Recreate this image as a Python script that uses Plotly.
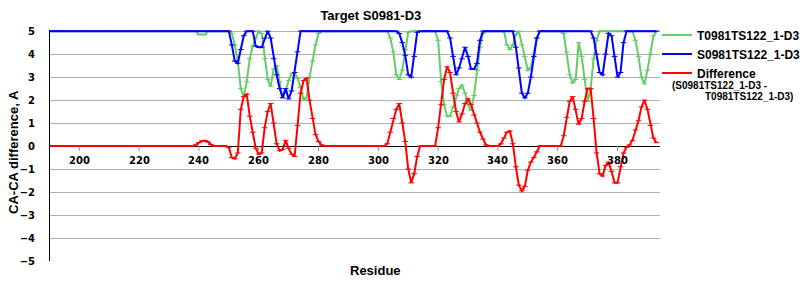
import plotly.graph_objects as go

# Residue numbers (x categories)
residues = list(range(190, 394))

# T0981TS122_1-D3 (green)
t_model = ([5] * 50 + [4.85, 4.85, 4.85] + [5] * 8 +
           [4.9, 4.4, 3.7, 2.5, 2.15, 2.8, 3.8, 4.35, 4.7, 5, 4.9, 3.8, 2.9, 2.6, 3.35,
            3.5, 2.8, 2.1, 2.4, 2.85, 3.15, 3.2, 2.95, 2.55, 2.0, 2.1, 3.0, 3.7, 4.4, 4.9] +
           [5] * 23 + [4.7, 4.1, 3.1, 2.9, 3.3, 4.2, 4.95] + [5] * 9 +
           [4.6, 2.8, 1.8, 1.3, 1.3, 1.7, 2.2, 2.5, 2.65, 2.3, 1.8, 1.55, 2.2, 3.3, 4.3, 4.9] +
           [5] * 7 + [4.4, 4.2, 4.4, 4.85, 5, 4.4, 3.9, 3.3, 3.4, 4.0, 4.7] + [5] * 8 +
           [4.9, 4.1, 3.1, 2.75, 2.9, 4.5, 3.9, 2.9, 1.95, 2.5, 3.8, 4.6] + [5] * 12 +
           [4.6, 3.9, 3.0, 2.7, 3.3, 4.0, 4.8, 5])

# S0981TS122_1-D3 (blue)
s_model = ([5] * 61 + [4.4, 3.7, 3.6, 4.2, 4.8] + [5] * 3 + [4.35, 4.3, 4.3, 4.7] + [5] +
           [4.7, 3.8, 3.1, 2.5, 2.1, 2.5, 2.05, 2.4, 3.2, 4.1] + [5] * 33 +
           [4.9, 4.5, 3.95, 3.1, 3.0, 3.9, 4.95] + [5] * 10 +
           [4.7, 3.9, 3.1, 3.4, 3.8, 4.3, 3.9, 3.35, 3.35, 3.6, 4.6] + [5] * 11 +
           [4.3, 3.4, 2.3, 2.1, 2.3, 3.0, 3.9, 4.7] + [5] * 18 +
           [4.7, 4.0, 3.2, 3.1, 4.0, 4.9, 4.8, 3.9, 3.0, 3.2, 4.5] + [5] * 11)

# Difference (S - T) (red)
difference = ([0] * 49 + [0.05, 0.15, 0.22, 0.24, 0.18, 0.07] + [0] * 5 +
              [-0.05, -0.5, -0.55, -0.3, 1.6, 2.15, 2.25, 1.3, 0.6, -0.1, -0.35, -0.3, 0.8, 1.5,
               1.85, 1.0, 0.1, -0.2, -0.15, 0.25, -0.1, -0.35, -0.45, 0.9, 2.3, 2.85, 2.95, 2.0,
               1.2, 0.5, 0.2, 0.05] +
              [0] * 21 + [0.1, 0.6, 1.2, 1.6, 1.85, 1.0, 0.2, -1.0, -1.6, -1.2, -0.45] + [0] * 6 +
              [0.8, 1.8, 2.9, 3.45, 3.2, 2.3, 1.5, 1.05, 1.4, 1.85, 2.05, 1.8, 1.35, 1.0, 0.6,
               0.3, 0.05] + [0] * 4 +
              [0.1, 0.35, 0.6, 0.65, 0.1, -0.9, -1.7, -1.95, -1.75, -1.05, -0.7, -0.5, -0.25] +
              [0] * 8 +
              [0.45, 1.25, 1.95, 2.15, 1.6, 0.95, 1.2, 1.95, 2.5, 2.5, 1.2, -0.3, -1.2, -1.3,
               -0.85, -0.7, -1.1, -1.6, -1.6, -0.9, -0.3, -0.05, 0.05, 0.25, 0.7, 1.1, 1.7, 2.0,
               1.6, 0.9, 0.35, 0.15])

assert len(t_model) == len(residues) == len(s_model) == len(difference)

x_ticks = list(range(200, 381, 20))
y_ticks = list(range(-5, 6))

series = [
    ("T0981TS122_1-D3", t_model, "#66cc66"),
    ("S0981TS122_1-D3", s_model, "#0000ff"),
    ("Difference", difference, "#ff0000"),
]

fig = go.Figure()
for name, ys, col in series:
    fig.add_trace(go.Scatter(
        x=residues, y=ys, name=name, mode="lines+markers",
        line=dict(color=col, width=2),
        marker=dict(symbol="line-ew", size=4, color=col, line=dict(color=col, width=1)),
    ))

bold = "Liberation Sans"
tickfont = dict(family="DejaVu Sans", size=10, color="black", weight="bold")
Y0, Y1 = -5, 5.05

# x-axis tick marks and labels sit on the zero line (axis crosses at y = 0)
annotations = []
for t in x_ticks:
    fig.add_shape(type="line", xref="x", yref="y", x0=t, x1=t,
                  ysizemode="pixel", yanchor=0, y0=0, y1=-5,
                  line=dict(color="#909090", width=1))
    annotations.append(dict(text=str(t), xref="x", yref="y", x=t, y=0,
                            xanchor="center", yanchor="top", yshift=-7,
                            showarrow=False, font=tickfont))

annotations += [
    dict(text="CA-CA difference, A", textangle=-90, xref="paper", yref="paper",
         x=-0.059, y=0.472, xanchor="center", yanchor="middle", showarrow=False,
         font=dict(family=bold, size=13, color="black", weight="bold")),
    dict(text="Residue", xref="paper", yref="paper", x=0.534, y=-0.039,
         xanchor="center", yanchor="middle", showarrow=False,
         font=dict(family=bold, size=13, color="black", weight="bold")),
    dict(text="(S0981TS122_1-D3 -", xref="paper", yref="paper", x=1.016, y=0.758,
         xanchor="left", yanchor="middle", showarrow=False,
         font=dict(family=bold, size=10, color="black", weight="bold")),
    dict(text="T0981TS122_1-D3)", xref="paper", yref="paper", x=1.070, y=0.710,
         xanchor="left", yanchor="middle", showarrow=False,
         font=dict(family=bold, size=10, color="black", weight="bold")),
]

fig.update_layout(
    width=800, height=300,
    margin=dict(l=50, r=140, t=30, b=39, autoexpand=False),
    paper_bgcolor="white", plot_bgcolor="white",
    title=dict(text="Target S0981-D3", x=0.526, xref="paper", xanchor="center",
               y=1 - 15 / 300, yref="container", yanchor="middle",
               font=dict(family=bold, size=13, color="black", weight="bold")),
    xaxis=dict(range=[190.2, 394.2], anchor="y", showline=False, ticks="",
               showticklabels=False, showgrid=False, zeroline=False),
    yaxis=dict(range=[Y0, Y1], anchor="x", tickvals=y_ticks, showgrid=True,
               gridcolor="#b0b0b0", gridwidth=1,
               showline=True, linecolor="black", linewidth=1,
               zeroline=True, zerolinecolor="black", zerolinewidth=1,
               ticks="", tickfont=tickfont, ticklabelstandoff=12),
    showlegend=True,
    legend=dict(x=(657 - 50) / 610, xanchor="left", y=1.0416, yanchor="top",
                bgcolor="rgba(0,0,0,0)",
                font=dict(family=bold, size=12, color="black", weight="bold"),
                tracegroupgap=0),
    annotations=annotations,
)

fig.write_html("out.html")
